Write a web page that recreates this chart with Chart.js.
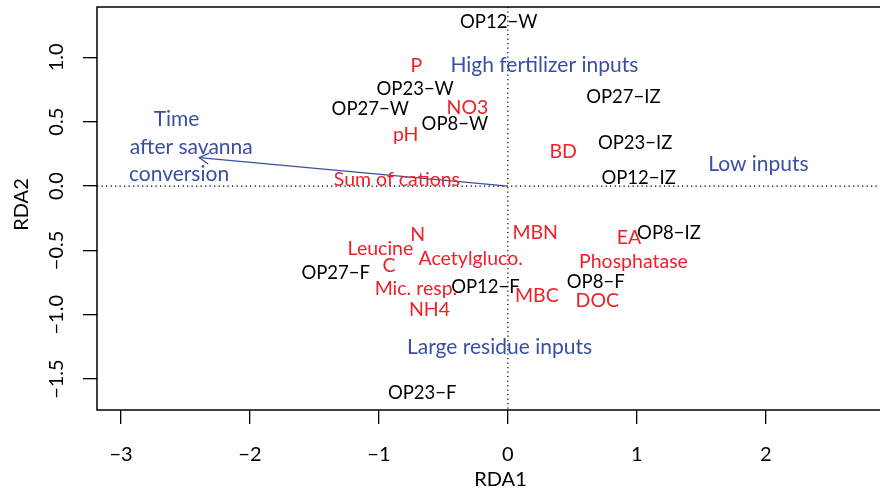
<!DOCTYPE html>
<html><head><meta charset="utf-8">
<script src="https://cdn.jsdelivr.net/npm/chart.js@4.4.0/dist/chart.umd.min.js"></script>
<style>html,body{margin:0;padding:0;background:#fff;overflow:hidden}
#wrap{width:880px;height:492px;overflow:hidden;position:relative;background:#fff}
canvas{display:block}</style></head>
<body><div id="wrap"><canvas id="c" width="940" height="492"></canvas></div>
<script>
const xTicks = [-3, -2, -1, 0, 1, 2, 3];
const yTicks = [-1.5, -1, -0.5, 0, 0.5, 1];

const siteNames = ['OP12−W','OP23−W','OP27−W','OP8−W','OP27−IZ','OP23−IZ','OP12−IZ','OP8−IZ','OP8−F','OP12−F','OP27−F','OP23−F'];
const siteX = [-0.071, -0.719, -1.067, -0.411, 0.896, 0.987, 1.014, 1.249, 0.681, -0.174, -1.335, -0.664];
const siteY = [1.277, 0.751, 0.598, 0.479, 0.694, 0.336, 0.060, -0.368, -0.744, -0.782, -0.679, -1.606];

const varNames = ['P','NO3','pH','BD','Sum of cations','N','Leucine','C','Acetylgluco.','Mic. resp.','NH4','MBN','MBC','Phosphatase','DOC','EA'];
const varX = [-0.709, -0.313, -0.792, 0.429, -0.860, -0.699, -0.988, -0.922, -0.288, -0.713, -0.608, 0.212, 0.225, 0.974, 0.694, 0.939];
const varY = [0.935, 0.611, 0.400, 0.267, 0.047, -0.375, -0.484, -0.622, -0.562, -0.800, -0.963, -0.363, -0.855, -0.588, -0.891, -0.402];

const groupNames = ['High fertilizer inputs','Low inputs','Large residue inputs','Time','after savanna','conversion'];
const groupX = [0.283, 1.943, -0.065, -2.569, -2.455, -2.550];
const groupY = [0.940, 0.169, -1.249, 0.521, 0.305, 0.091];

const arrowX = [0, -2.393];
const arrowY = [0, 0.220];

const FONT = 'Lato, "Open Sans", sans-serif';
const RED = '#EE2028';
const BLUE = '#3A4FA3';
const AXIS_FONT_SIZE = 20;

function fmtNum(v, dec) {
  const s = Math.abs(v).toFixed(dec);
  return (v < 0 ? '\u2212' : '') + s;
}
function pts(xs, ys) { return xs.map((x, i) => ({x: x, y: ys[i]})); }

const biplotPlugin = {
  id: 'biplot',
  beforeDatasetsDraw(chart) {
    const ctx = chart.ctx;
    const a = chart.chartArea;
    const xs = chart.scales.x, ys = chart.scales.y;
    const x0 = xs.getPixelForValue(0), y0 = ys.getPixelForValue(0);
    ctx.save();
    ctx.strokeStyle = '#000';
    ctx.lineWidth = 1.2;
    ctx.setLineDash([1.3, 3.2]);
    ctx.beginPath();
    ctx.moveTo(a.left, y0); ctx.lineTo(a.right, y0);
    ctx.moveTo(x0, a.top); ctx.lineTo(x0, a.bottom);
    ctx.stroke();
    ctx.restore();
  },
  afterDatasetsDraw(chart) {
    const ctx = chart.ctx;
    const a = chart.chartArea;
    const ys = chart.scales.y;
    ctx.save();
    ctx.strokeStyle = '#000';
    ctx.lineWidth = 1.5;
    ctx.strokeRect(a.left, a.top, a.right - a.left, a.bottom - a.top);
    chart.data.datasets.forEach((ds, i) => {
      const meta = chart.getDatasetMeta(i);
      if (ds.isArrow) {
        const p0 = meta.data[0], p1 = meta.data[1];
        const ang = Math.atan2(p1.y - p0.y, p1.x - p0.x);
        const L = 11, th = Math.PI / 6;
        ctx.strokeStyle = ds.borderColor;
        ctx.lineWidth = 1.3;
        ctx.beginPath();
        ctx.moveTo(p1.x - L * Math.cos(ang - th), p1.y - L * Math.sin(ang - th));
        ctx.lineTo(p1.x, p1.y);
        ctx.lineTo(p1.x - L * Math.cos(ang + th), p1.y - L * Math.sin(ang + th));
        ctx.stroke();
        return;
      }
      if (!ds.labels) return;
      ctx.fillStyle = ds.textColor;
      ctx.font = ds.fontSize + 'px ' + FONT;
      ctx.textAlign = 'center';
      ctx.textBaseline = 'middle';
      meta.data.forEach((pt, j) => {
        ctx.fillText(ds.labels[j], pt.x, pt.y);
      });
    });
    ctx.fillStyle = '#000';
    ctx.font = AXIS_FONT_SIZE + 'px ' + FONT;
    ctx.textAlign = 'center';
    ctx.textBaseline = 'middle';
    ys.ticks.forEach(t => {
      const py = ys.getPixelForValue(t.value);
      ctx.save();
      ctx.translate(a.left - 40, py);
      ctx.rotate(-Math.PI / 2);
      ctx.fillText(fmtNum(t.value, 1), 0, 0);
      ctx.restore();
    });
    ctx.fillText('RDA1', (a.left + a.right) / 2, a.bottom + 70);
    ctx.save();
    ctx.translate(22, (a.top + a.bottom) / 2 - 4);
    ctx.rotate(-Math.PI / 2);
    ctx.fillText('RDA2', 0, 0);
    ctx.restore();
    ctx.restore();
  }
};

new Chart(document.getElementById('c'), {
  type: 'scatter',
  data: {
    datasets: [
      {label: 'arrow', data: pts(arrowX, arrowY), showLine: true, borderColor: BLUE, borderWidth: 1.3, pointRadius: 0, isArrow: true},
      {label: 'sites', data: pts(siteX, siteY), pointRadius: 0, labels: siteNames, textColor: '#000', fontSize: 18.5},
      {label: 'variables', data: pts(varX, varY), pointRadius: 0, labels: varNames, textColor: RED, fontSize: 19.5},
      {label: 'groups', data: pts(groupX, groupY), pointRadius: 0, labels: groupNames, textColor: BLUE, fontSize: 21}
    ]
  },
  options: {
    responsive: false,
    animation: false,
    devicePixelRatio: 1,
    layout: {padding: {top: 7, right: 36, left: 0, bottom: 0}},
    plugins: {legend: {display: false}, tooltip: {enabled: false}},
    scales: {
      x: {
        type: 'linear', min: -3.186, max: 3.072,
        afterBuildTicks: s => { s.ticks = xTicks.map(v => ({value: v})); },
        afterFit: s => { s.height = 82; },
        grid: {display: true, drawOnChartArea: false, drawTicks: true, tickLength: 14, color: '#000', lineWidth: 1.3},
        border: {display: false},
        ticks: {color: '#000', font: {family: FONT, size: AXIS_FONT_SIZE}, padding: 19, maxRotation: 0, autoSkip: false,
                callback: v => fmtNum(v, 0)}
      },
      y: {
        type: 'linear', min: -1.740, max: 1.391,
        afterBuildTicks: s => { s.ticks = yTicks.map(v => ({value: v})); },
        afterFit: s => { s.width = 97; },
        grid: {display: true, drawOnChartArea: false, drawTicks: true, tickLength: 14, color: '#000', lineWidth: 1.3},
        border: {display: false},
        ticks: {display: false}
      }
    }
  },
  plugins: [biplotPlugin]
});
</script></body></html>
